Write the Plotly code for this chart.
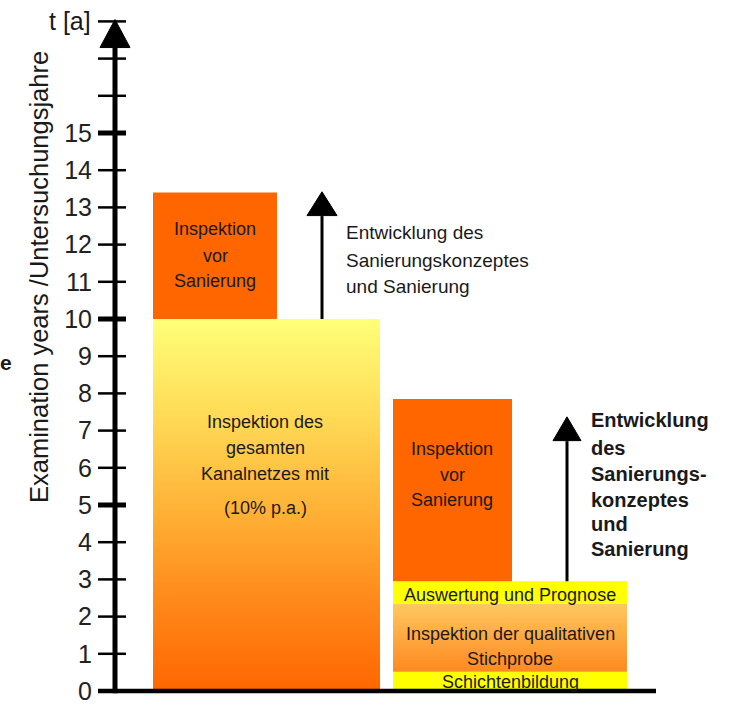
import plotly.graph_objects as go

# ---------------- data (years) ----------------
tick_values = list(range(0, 16))
tick_labels = [str(v) for v in tick_values]
minor_extra_ticks = [16, 17, 18]
bold_ticks = [5, 10, 15]

full_inspection_top = 10          # Inspektion des gesamten Kanalnetzes
left_repair_inspection = [10, 13.4]
left_arrow = [10, 13.42]

schichten = [0, 0.52]
stichprobe = [0.52, 2.35]
auswertung = [2.35, 2.95]
right_repair_inspection = [2.95, 7.85]
right_arrow = [2.95, 7.37]

axis_top = 18.05

# ---------------- layout helpers ----------------
W, H = 734, 707
Y0_PX, PX_PER_YEAR = 691, 37.2
y_range = [(Y0_PX - H) / PX_PER_YEAR, Y0_PX / PX_PER_YEAR]
AXIS_X = 115
ORANGE = "#FF6600"
YELLOW = "#FFFF00"
TXT = "#1a1a1a"
NARROW = "Liberation Sans Narrow, Arial Narrow, Liberation Sans, sans-serif"
SANS = "Liberation Sans, Arial, sans-serif"
HEAD = 28 / PX_PER_YEAR


def px(xp, yp):
    return xp / W, 1 - yp / H


fig = go.Figure()


def block(x0, x1, ys, color=None, gradient=None):
    kw = dict(x=[x0, x1, x1, x0, x0], y=[ys[0], ys[0], ys[1], ys[1], ys[0]],
              mode="lines", fill="toself", line=dict(width=0),
              hoverinfo="skip", showlegend=False)
    if gradient:
        kw["fillgradient"] = dict(type="vertical", colorscale=gradient)
    else:
        kw["fillcolor"] = color
    fig.add_trace(go.Scatter(**kw))


big_grad = [[0, "#FF6600"], [0.25, "#FF8A1C"], [0.5, "#FFB438"],
            [0.75, "#FFDC58"], [1, "#FFFF78"]]
mid_grad = [[0, "#FF8A20"], [0.5, "#FFA840"], [1, "#FFC860"]]

block(153, 380, [0, full_inspection_top], gradient=big_grad)
block(153, 277, left_repair_inspection, color=ORANGE)
block(393, 627, schichten, color=YELLOW)
block(393, 627, stichprobe, gradient=mid_grad)
block(393, 627, auswertung, color=YELLOW)
block(393, 512, right_repair_inspection, color=ORANGE)

shapes = []
# y-axis line and arrow head
shapes.append(dict(type="line", xref="x", yref="y", x0=AXIS_X, x1=AXIS_X,
                   y0=-0.06, y1=axis_top - HEAD + 0.1, line=dict(color="black", width=5)))
shapes.append(dict(type="path", xref="x", yref="y",
                   path=f"M {AXIS_X-15},{axis_top-HEAD} L {AXIS_X+15},{axis_top-HEAD} L {AXIS_X},{axis_top} Z",
                   fillcolor="black", line=dict(color="black", width=1)))
# tick marks crossing the axis
for v in tick_values + minor_extra_ticks:
    shapes.append(dict(type="line", xref="x", yref="y", x0=AXIS_X - 17, x1=AXIS_X + 11,
                       y0=v, y1=v,
                       line=dict(color="black", width=5 if v in bold_ticks else 2.5)))
# x-axis line
shapes.append(dict(type="line", xref="x", yref="y", x0=AXIS_X - 17, x1=656, y0=0, y1=0,
                   line=dict(color="black", width=4.5)))


def arrow(xc, ys, half):
    shapes.append(dict(type="line", xref="x", yref="y", x0=xc, x1=xc,
                       y0=ys[0], y1=ys[1] - HEAD + 0.1, line=dict(color="black", width=3)))
    shapes.append(dict(type="path", xref="x", yref="y",
                       path=f"M {xc-half},{ys[1]-HEAD*0.85} L {xc+half},{ys[1]-HEAD*0.85} L {xc},{ys[1]} Z",
                       fillcolor="black", line=dict(color="black", width=1)))


arrow(322, left_arrow, 15)
arrow(567, right_arrow, 14)

annotations = []


def text(s, xp, yp, size=18, font=NARROW, xanchor="center", bold=False, angle=0):
    x, y = px(xp, yp)
    annotations.append(dict(text=f"<b>{s}</b>" if bold else s, x=x, y=y, xref="paper", yref="paper",
                            xanchor=xanchor, yanchor="middle", showarrow=False, textangle=angle,
                            font=dict(family=font, size=size, color=TXT)))


for s, yp in zip(["Inspektion", "vor", "Sanierung"], [229, 256, 281]):
    text(s, 215, yp)
for s, yp in zip(["Inspektion des", "gesamten", "Kanalnetzes mit", "(10% p.a.)"], [422, 448, 474, 508]):
    text(s, 265, yp)
for s, yp in zip(["Inspektion", "vor", "Sanierung"], [449, 475, 500]):
    text(s, 452, yp)
for s, yp in zip(["Auswertung und Prognose", "Inspektion der qualitativen", "Stichprobe", "Schichtenbildung"],
                 [595, 634, 659, 682]):
    text(s, 510, yp)
for s, yp in zip(["Entwicklung des", "Sanierungskonzeptes", "und Sanierung"], [233, 260, 286]):
    text(s, 344, yp, size=19, xanchor="left")
for s, yp in zip(["Entwicklung", "des", "Sanierungs-", "konzeptes", "und", "Sanierung"],
                 [420, 448, 474, 500, 524, 549]):
    text(s, 589, yp, size=20, font=SANS, xanchor="left", bold=True)

text("t [a]", 93, 21, size=25, font=SANS, xanchor="right")
text("Examination years /Untersuchungsjahre", 39, 277, size=25.5, font=SANS, angle=-90)
text("e", 14, 362, size=21, font=SANS, xanchor="right", bold=True)

fig.update_layout(
    width=W, height=H,
    margin=dict(l=0, r=0, t=0, b=0),
    paper_bgcolor="white", plot_bgcolor="white",
    xaxis=dict(range=[0, W], visible=False, fixedrange=True),
    yaxis=dict(range=y_range, anchor="free", position=AXIS_X / W, side="left",
               tickvals=tick_values, ticktext=tick_labels, ticks="outside", ticklen=18,
               tickcolor="rgba(0,0,0,0)", showline=False, showgrid=False, zeroline=False,
               tickfont=dict(family=SANS, size=25, color="#222222"), automargin=False,
               fixedrange=True),
    shapes=shapes,
    annotations=annotations,
    showlegend=False,
)

fig.write_html("out.html", config={"displayModeBar": False},
               post_script="document.body.style.margin='0';")
